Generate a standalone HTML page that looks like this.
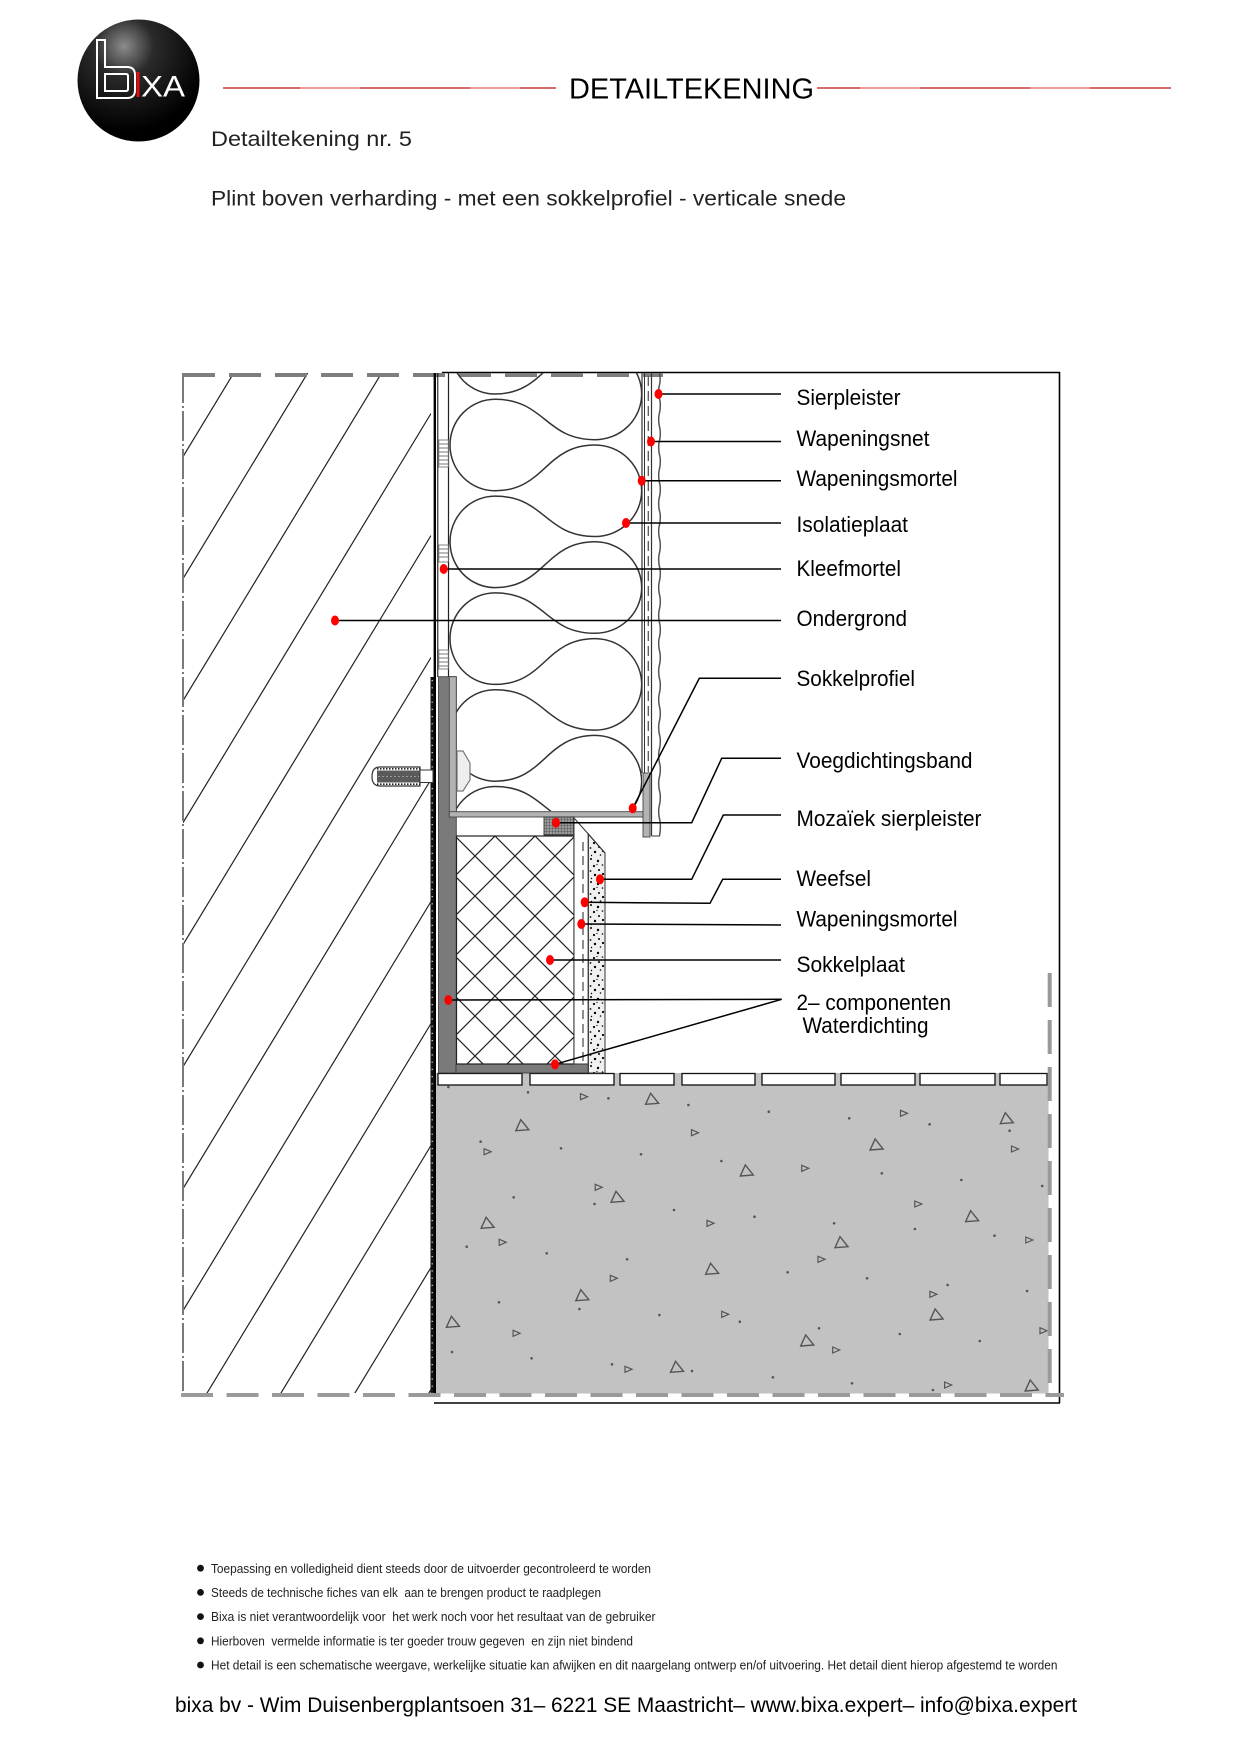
<!DOCTYPE html>
<html>
<head>
<meta charset="utf-8">
<style>
html,body{margin:0;padding:0;background:#fff;}
svg{display:block;}
text{font-family:"Liberation Sans",Arial,sans-serif;white-space:pre;}
</style>
</head>
<body>
<svg width="1240" height="1754" viewBox="0 0 1240 1754" xmlns="http://www.w3.org/2000/svg">
<defs>
  <radialGradient id="lg" cx="0.38" cy="0.22" r="0.7">
    <stop offset="0" stop-color="#8c8c8c"/>
    <stop offset="0.35" stop-color="#2a2a2a"/>
    <stop offset="1" stop-color="#000"/>
  </radialGradient>
  <clipPath id="wallclip"><rect x="183" y="373" width="248" height="1020"/></clipPath>
  <clipPath id="insclip"><rect x="449" y="373" width="193" height="438"/></clipPath>
  <clipPath id="xpsclip"><rect x="456.5" y="836" width="117.5" height="228"/></clipPath>
  <pattern id="xps" patternUnits="userSpaceOnUse" x="455" y="836" width="40" height="40">
    <path d="M0,0 L40,40 M40,0 L0,40" stroke="#222" stroke-width="1.2" fill="none"/>
  </pattern>
  <pattern id="fine" patternUnits="userSpaceOnUse" width="3" height="3">
    <rect width="3" height="3" fill="#9a9a9a"/>
    <path d="M0,0 L3,0 M0,0 L0,3" stroke="#444" stroke-width="0.8"/>
  </pattern>
  <pattern id="speck" patternUnits="userSpaceOnUse" x="588" y="834" width="17" height="23">
    <circle cx="3" cy="2" r="1"/><circle cx="10" cy="4" r="1.2"/><circle cx="14.5" cy="8" r="0.8"/>
    <circle cx="6" cy="9" r="1.1"/><circle cx="2.5" cy="14" r="0.9"/><circle cx="11" cy="13" r="1"/>
    <circle cx="15" cy="17" r="1.1"/><circle cx="7" cy="18" r="1.2"/><circle cx="12.5" cy="21" r="0.8"/>
    <circle cx="3.5" cy="21.5" r="0.7"/><circle cx="9" cy="7.5" r="0.6"/>
  </pattern>
  <path id="tb" d="M-6,5 L7,4 L-1,-6 Z" fill="none" stroke="#555" stroke-width="1.4"/>
  <path id="ts" d="M-3,-3 L4,0 L-3,3 Z" fill="none" stroke="#555" stroke-width="1.2"/>
</defs>

<!-- ===== HEADER ===== -->
<circle cx="138.5" cy="80.5" r="61" fill="url(#lg)"/>
<path d="M97,40 L105,40 L105,67 L127,67 Q135,67 135,75 L135,90 Q135,98 127,98 L97,98 Z M105,74 L126,74 Q128,74 128,76 L128,89 Q128,91 126,91 L105,91 Z" fill="none" stroke="#fff" stroke-width="2"/>
<rect x="136.5" y="72" width="3" height="25" fill="#e01010"/>
<text x="141" y="96.5" font-size="30" fill="#fff" textLength="44" lengthAdjust="spacingAndGlyphs">XA</text>

<line x1="223" y1="88" x2="556" y2="88" stroke="#c83a3a" stroke-width="1.6"/>
<line x1="817" y1="88" x2="1171" y2="88" stroke="#c83a3a" stroke-width="1.6"/>
<line x1="300" y1="88" x2="360" y2="88" stroke="#e99" stroke-width="1.6"/>
<line x1="470" y1="88" x2="520" y2="88" stroke="#e99" stroke-width="1.6"/>
<line x1="860" y1="88" x2="920" y2="88" stroke="#e99" stroke-width="1.6"/>
<line x1="1030" y1="88" x2="1090" y2="88" stroke="#e99" stroke-width="1.6"/>
<text x="569" y="98.5" font-size="29" fill="#000" textLength="245" lengthAdjust="spacingAndGlyphs">DETAILTEKENING</text>

<text x="211" y="146" font-size="21" fill="#222" textLength="201" lengthAdjust="spacingAndGlyphs">Detailtekening nr. 5</text>
<text x="211" y="205.5" font-size="21" fill="#222" textLength="635" lengthAdjust="spacingAndGlyphs">Plint boven verharding - met een sokkelprofiel - verticale snede</text>

<!-- ===== WALL HATCH ===== -->
<g clip-path="url(#wallclip)" stroke="#222" stroke-width="1.2">
  <line x1="183" y1="456.7" x2="431" y2="47.5"/>
  <line x1="183" y1="578.7" x2="431" y2="169.5"/>
  <line x1="183" y1="700.7" x2="431" y2="291.5"/>
  <line x1="183" y1="822.7" x2="431" y2="413.5"/>
  <line x1="183" y1="944.7" x2="431" y2="535.5"/>
  <line x1="183" y1="1066.7" x2="431" y2="657.5"/>
  <line x1="183" y1="1188.7" x2="431" y2="779.5"/>
  <line x1="183" y1="1310.7" x2="431" y2="901.5"/>
  <line x1="183" y1="1432.7" x2="431" y2="1023.5"/>
  <line x1="183" y1="1554.7" x2="431" y2="1145.5"/>
  <line x1="183" y1="1676.7" x2="431" y2="1267.5"/>
  <line x1="183" y1="1798.7" x2="431" y2="1389.5"/>
</g>

<!-- ===== CONCRETE ===== -->
<rect x="432.5" y="1073" width="616" height="320.5" fill="#c2c2c2"/>
<g>
  <use href="#tb" x="651.6" y="1099.3"/><use href="#tb" x="521.8" y="1125.7"/>
  <use href="#tb" x="876.1" y="1145"/><use href="#tb" x="1006.3" y="1118.7"/>
  <use href="#tb" x="746.3" y="1171"/><use href="#tb" x="617" y="1197.3"/>
  <use href="#tb" x="487.1" y="1223.3"/><use href="#tb" x="841" y="1242.7"/>
  <use href="#tb" x="971.6" y="1216.7"/><use href="#tb" x="711.6" y="1269.3"/>
  <use href="#tb" x="581.8" y="1295.7"/><use href="#tb" x="452.4" y="1322.3"/>
  <use href="#tb" x="936.1" y="1315"/><use href="#tb" x="806.7" y="1341"/>
  <use href="#tb" x="676.5" y="1367.3"/><use href="#tb" x="1031.2" y="1386"/>
  <use href="#ts" x="583.5" y="1096.7"/><use href="#ts" x="694.5" y="1132.7"/>
  <use href="#ts" x="487.1" y="1151.7"/><use href="#ts" x="903.5" y="1113.3"/>
  <use href="#ts" x="1014.5" y="1149"/><use href="#ts" x="804.7" y="1168.3"/>
  <use href="#ts" x="598.2" y="1187.3"/><use href="#ts" x="917.8" y="1204"/>
  <use href="#ts" x="710" y="1223.3"/><use href="#ts" x="502.2" y="1242.3"/>
  <use href="#ts" x="1028.8" y="1240"/><use href="#ts" x="821" y="1259.3"/>
  <use href="#ts" x="613.3" y="1278.3"/><use href="#ts" x="932.9" y="1294.3"/>
  <use href="#ts" x="724.7" y="1314.3"/><use href="#ts" x="516.1" y="1333.3"/>
  <use href="#ts" x="1043" y="1330.7"/><use href="#ts" x="835.7" y="1350"/>
  <use href="#ts" x="628" y="1369.3"/><use href="#ts" x="947.6" y="1385"/>
</g>
<g fill="#555">
  <circle cx="528" cy="1092.3" r="1.3"/><circle cx="608.4" cy="1098.3" r="1.3"/>
  <circle cx="688.4" cy="1105" r="1.3"/><circle cx="768.8" cy="1111.7" r="1.3"/>
  <circle cx="849.2" cy="1118.3" r="1.3"/><circle cx="929.6" cy="1124.3" r="1.3"/>
  <circle cx="1009.6" cy="1130.7" r="1.3"/><circle cx="480.6" cy="1141.7" r="1.3"/>
  <circle cx="561" cy="1148.3" r="1.3"/><circle cx="641" cy="1154.3" r="1.3"/>
  <circle cx="721.4" cy="1161" r="1.3"/><circle cx="881.8" cy="1173.3" r="1.3"/>
  <circle cx="961.4" cy="1180" r="1.3"/><circle cx="1042.2" cy="1186" r="1.3"/>
  <circle cx="513.7" cy="1197.3" r="1.3"/><circle cx="594.5" cy="1204" r="1.3"/>
  <circle cx="674" cy="1210" r="1.3"/><circle cx="754.5" cy="1216.7" r="1.3"/>
  <circle cx="834.1" cy="1223.3" r="1.3"/><circle cx="914.9" cy="1229" r="1.3"/>
  <circle cx="994.5" cy="1235.7" r="1.3"/><circle cx="466.7" cy="1246.7" r="1.3"/>
  <circle cx="546.7" cy="1253.3" r="1.3"/><circle cx="627.1" cy="1259.3" r="1.3"/>
  <circle cx="787.6" cy="1272.3" r="1.3"/><circle cx="867.1" cy="1278.3" r="1.3"/>
  <circle cx="947.6" cy="1285" r="1.3"/><circle cx="1027.1" cy="1291" r="1.3"/>
  <circle cx="499" cy="1302.3" r="1.3"/><circle cx="579.4" cy="1309" r="1.3"/>
  <circle cx="659.4" cy="1315" r="1.3"/><circle cx="739.8" cy="1321.7" r="1.3"/>
  <circle cx="819" cy="1328.3" r="1.3"/><circle cx="899.8" cy="1334" r="1.3"/>
  <circle cx="979.8" cy="1341" r="1.3"/><circle cx="452" cy="1352" r="1.3"/>
  <circle cx="531.6" cy="1358.3" r="1.3"/><circle cx="612" cy="1364.3" r="1.3"/>
  <circle cx="692" cy="1371" r="1.3"/><circle cx="772.9" cy="1377.3" r="1.3"/>
  <circle cx="852" cy="1383.3" r="1.3"/><circle cx="932.9" cy="1390" r="1.3"/>
  <circle cx="448.4" cy="1087" r="1.3"/>
</g>

<!-- tiles -->
<g fill="#fff" stroke="#111" stroke-width="1.3">
  <rect x="438" y="1073.5" width="84" height="11.5"/>
  <rect x="530" y="1073.5" width="84" height="11.5"/>
  <rect x="620" y="1073.5" width="54" height="11.5"/>
  <rect x="682" y="1073.5" width="73" height="11.5"/>
  <rect x="762" y="1073.5" width="73" height="11.5"/>
  <rect x="841" y="1073.5" width="74" height="11.5"/>
  <rect x="920" y="1073.5" width="75" height="11.5"/>
  <rect x="1000" y="1073.5" width="47" height="11.5"/>
</g>

<!-- ===== FRAME ===== -->
<line x1="442" y1="372.5" x2="1060" y2="372.5" stroke="#000" stroke-width="1.5"/>
<line x1="183" y1="375" x2="663" y2="375" stroke="#7e7e7e" stroke-width="4" stroke-dasharray="32 14"/>
<line x1="183" y1="373" x2="183" y2="1393" stroke="#7a7a7a" stroke-width="2" stroke-dasharray="30 3 2 3"/>
<line x1="1059.5" y1="372" x2="1059.5" y2="1403" stroke="#000" stroke-width="1.6"/>
<line x1="1049.7" y1="973" x2="1049.7" y2="1393" stroke="#9a9a9a" stroke-width="4" stroke-dasharray="34 13"/>
<line x1="181" y1="1395" x2="1064" y2="1395" stroke="#9a9a9a" stroke-width="4" stroke-dasharray="32 13.5"/>
<line x1="434" y1="1403" x2="1060" y2="1403" stroke="#000" stroke-width="1.5"/>

<!-- wall face -->
<line x1="434.8" y1="373" x2="434.8" y2="1393" stroke="#000" stroke-width="2.4"/>
<line x1="437.8" y1="373" x2="437.8" y2="677" stroke="#000" stroke-width="1"/>
<rect x="430.5" y="677" width="3.5" height="716" fill="#111"/>
<line x1="432.2" y1="680" x2="432.2" y2="1393" stroke="#ddd" stroke-width="1.2" stroke-dasharray="1.2 6"/>

<!-- ===== INSULATION ===== -->
<line x1="448.5" y1="373" x2="448.5" y2="677" stroke="#222" stroke-width="1.2"/>
<g clip-path="url(#insclip)">
<path fill="none" stroke="#333" stroke-width="1.5" d="M 495 302.5 A 45 45.75 0 0 0 495 394 C 545 394 545 348.2 595 348.2 A 46.7 45.75 0 0 1 595 439.7 C 545 439.7 545 399.3 495 399.3 A 45 45.75 0 0 0 495 490.8 C 545 490.8 545 445 595 445 A 46.7 45.75 0 0 1 595 536.5 C 545 536.5 545 496.1 495 496.1 A 45 45.75 0 0 0 495 587.6 C 545 587.6 545 541.8 595 541.8 A 46.7 45.75 0 0 1 595 633.3 C 545 633.3 545 592.9 495 592.9 A 45 45.75 0 0 0 495 684.4 C 545 684.4 545 638.6 595 638.6 A 46.7 45.75 0 0 1 595 730.1 C 545 730.1 545 689.7 495 689.7 A 45 45.75 0 0 0 495 781.2 C 545 781.2 545 735.4 595 735.4 A 46.7 45.75 0 0 1 595 826.9 C 545 826.9 545 786.5 495 786.5 A 45 45.75 0 0 0 495 878"/>
</g>

<!-- glue dabs -->
<g stroke="#777" stroke-width="0.9" fill="#fff">
  <rect x="438.8" y="440" width="9.5" height="27"/>
  <rect x="438.8" y="545" width="9.5" height="17"/>
  <rect x="438.8" y="650" width="9.5" height="19"/>
  <path d="M439,444 H448 M439,448 H448 M439,452 H448 M439,456 H448 M439,460 H448 M439,464 H448 M439,549 H448 M439,553 H448 M439,557 H448 M439,654 H448 M439,658 H448 M439,662 H448 M439,666 H448"/>
</g>

<!-- render layers -->
<line x1="642" y1="373" x2="642" y2="773" stroke="#333" stroke-width="1.2"/>
<line x1="644.5" y1="373" x2="644.5" y2="773" stroke="#333" stroke-width="1"/>
<line x1="648.3" y1="376" x2="648.3" y2="772" stroke="#555" stroke-width="1.3" stroke-dasharray="10 5"/>
<line x1="651.5" y1="373" x2="651.5" y2="836" stroke="#333" stroke-width="1.2"/>
<path d="M659.5,373 Q661,380 659,387 Q658,394 660,401 Q661,408 659,415 Q658,422 660,429 Q661,436 659,443 Q658,450 660,457 Q661,464 659,471 Q658,478 660,485 Q661,492 659,499 Q658,506 660,513 Q661,520 659,527 Q658,534 660,541 Q661,548 659,555 Q658,562 660,569 Q661,576 659,583 Q658,590 660,597 Q661,604 659,611 Q658,618 660,625 Q661,632 659,639 Q658,646 660,653 Q661,660 659,667 Q658,674 660,681 Q661,688 659,695 Q658,702 660,709 Q661,716 659,723 Q658,730 660,737 Q661,744 659,751 Q658,758 660,765 Q661,772 659,779 Q658,786 660,793 Q661,800 659,807 Q658,814 660,821 Q661,828 659.5,836" fill="none" stroke="#555" stroke-width="1.5"/>
<line x1="651.5" y1="836" x2="660" y2="836" stroke="#555" stroke-width="1.2"/>

<!-- ===== WATERPROOFING / PROFILE ===== -->
<rect x="438.5" y="676.7" width="17.8" height="396.3" fill="#7a7a7a" stroke="#333" stroke-width="0.8"/>
<rect x="456" y="1064" width="132.3" height="9" fill="#7a7a7a" stroke="#333" stroke-width="0.8"/>
<rect x="449.3" y="676.7" width="7" height="140" fill="#b3b3b3" stroke="#444" stroke-width="0.9"/>
<rect x="449.3" y="811.7" width="200.7" height="5.3" fill="#b3b3b3" stroke="#444" stroke-width="0.9"/>
<rect x="643" y="773" width="7" height="64" fill="#b3b3b3" stroke="#444" stroke-width="0.9"/>

<!-- anchor -->
<path d="M380,767 L420,767 L420,786 L380,786 Q372,786 372,776.5 Q372,767 380,767 Z" fill="#fff" stroke="#333" stroke-width="1.2"/>
<rect x="377" y="770.5" width="43" height="12" fill="#5a5a5a"/>
<line x1="377" y1="768.8" x2="420" y2="768.8" stroke="#222" stroke-width="1.6" stroke-dasharray="1.5 1.5"/>
<line x1="377" y1="784.2" x2="420" y2="784.2" stroke="#222" stroke-width="1.6" stroke-dasharray="1.5 1.5"/>
<line x1="378" y1="776.5" x2="419" y2="776.5" stroke="#999" stroke-width="1" stroke-dasharray="2 2"/>
<rect x="420" y="770" width="13" height="12.5" fill="#fff" stroke="#333" stroke-width="1"/>
<path d="M457,751 L463,751 L470,763 L470,780 L463,791 L457,791 Z" fill="#eee" stroke="#777" stroke-width="1.2"/>

<!-- voegdichtingsband -->
<rect x="544" y="817" width="30" height="18" fill="url(#fine)" stroke="#333" stroke-width="0.9"/>

<!-- sokkelplaat XPS -->
<rect x="456.5" y="836" width="117.5" height="228" fill="#fff"/>
<rect x="456.5" y="836" width="117.5" height="228" fill="url(#xps)" clip-path="url(#xpsclip)"/>
<rect x="456.5" y="836" width="117.5" height="228" fill="none" stroke="#222" stroke-width="1.2"/>

<!-- mortar + mozaiek -->
<polygon points="574,818 588.3,834 588.3,1064 574,1064" fill="#fff" stroke="#333" stroke-width="1"/>
<line x1="583" y1="842" x2="583" y2="1062" stroke="#444" stroke-width="1.2" stroke-dasharray="9 5"/>
<polygon points="588.3,834 605,853 605,1073 588.3,1073" fill="#f0f0f0" stroke="#333" stroke-width="1"/>
<polygon points="588.3,834 605,853 605,1073 588.3,1073" fill="url(#speck)"/>
<polygon points="588.3,834 605,853 605,1073 588.3,1073" fill="none" stroke="#333" stroke-width="1"/>

<!-- ===== LEADER LINES ===== -->
<g stroke="#000" stroke-width="1.5" fill="none">
  <line x1="658.5" y1="394" x2="781" y2="394"/>
  <line x1="651" y1="441.5" x2="781" y2="441.5"/>
  <line x1="641.7" y1="480.7" x2="781" y2="480.7"/>
  <line x1="626" y1="523" x2="781" y2="523"/>
  <line x1="443.7" y1="569" x2="781" y2="569"/>
  <line x1="335" y1="620.5" x2="781" y2="620.5"/>
  <polyline points="632.7,808.3 699.3,678.3 781,678.3"/>
  <polyline points="556,822.7 691.7,822.7 721.7,758.3 781,758.3"/>
  <polyline points="600,879.3 691.7,879.3 723.3,815 781,815"/>
  <polyline points="584.7,902.3 710,903.3 722.7,879.3 781,879.3"/>
  <line x1="581.3" y1="924" x2="781" y2="925"/>
  <line x1="550" y1="960" x2="781" y2="960"/>
  <line x1="448.3" y1="1000" x2="781.7" y2="999.3"/>
  <line x1="555" y1="1064.3" x2="781.7" y2="999.3"/>
</g>
<g fill="#f00">
  <ellipse cx="658.5" cy="394" rx="4" ry="5"/>
  <ellipse cx="651" cy="441.5" rx="4" ry="5"/>
  <ellipse cx="641.7" cy="480.7" rx="4" ry="5"/>
  <ellipse cx="626" cy="523" rx="4" ry="5"/>
  <ellipse cx="443.7" cy="569" rx="4" ry="5"/>
  <ellipse cx="335" cy="620.5" rx="4" ry="5"/>
  <ellipse cx="632.7" cy="808.3" rx="4" ry="5"/>
  <ellipse cx="556" cy="822.7" rx="4" ry="5"/>
  <ellipse cx="600" cy="879.3" rx="4" ry="5"/>
  <ellipse cx="584.7" cy="902.3" rx="4" ry="5"/>
  <ellipse cx="581.3" cy="924" rx="4" ry="5"/>
  <ellipse cx="550" cy="960" rx="4" ry="5"/>
  <ellipse cx="448.3" cy="1000" rx="4" ry="5"/>
  <ellipse cx="555" cy="1064.3" rx="4" ry="5"/>
</g>

<!-- ===== LABELS ===== -->
<g font-size="22" fill="#000">
  <text x="796.5" y="405" textLength="104" lengthAdjust="spacingAndGlyphs">Sierpleister</text>
  <text x="796.5" y="446" textLength="133" lengthAdjust="spacingAndGlyphs">Wapeningsnet</text>
  <text x="796.5" y="486" textLength="161" lengthAdjust="spacingAndGlyphs">Wapeningsmortel</text>
  <text x="796.5" y="532" textLength="111.5" lengthAdjust="spacingAndGlyphs">Isolatieplaat</text>
  <text x="796.5" y="576" textLength="104.5" lengthAdjust="spacingAndGlyphs">Kleefmortel</text>
  <text x="796.5" y="626" textLength="110.5" lengthAdjust="spacingAndGlyphs">Ondergrond</text>
  <text x="796.5" y="686" textLength="118.5" lengthAdjust="spacingAndGlyphs">Sokkelprofiel</text>
  <text x="796.5" y="768" textLength="176" lengthAdjust="spacingAndGlyphs">Voegdichtingsband</text>
  <text x="796.5" y="826" textLength="185" lengthAdjust="spacingAndGlyphs">Mozaïek sierpleister</text>
  <text x="796.5" y="886" textLength="74.5" lengthAdjust="spacingAndGlyphs">Weefsel</text>
  <text x="796.5" y="926.5" textLength="161" lengthAdjust="spacingAndGlyphs">Wapeningsmortel</text>
  <text x="796.5" y="972" textLength="108.5" lengthAdjust="spacingAndGlyphs">Sokkelplaat</text>
  <text x="796.5" y="1010" textLength="154.5" lengthAdjust="spacingAndGlyphs">2– componenten</text>
  <text x="802.5" y="1033" textLength="126" lengthAdjust="spacingAndGlyphs">Waterdichting</text>
</g>

<!-- ===== NOTES ===== -->
<g fill="#111">
  <circle cx="200.5" cy="1568.2" r="3.4"/>
  <circle cx="200.5" cy="1592.4" r="3.4"/>
  <circle cx="200.5" cy="1616.6" r="3.4"/>
  <circle cx="200.5" cy="1640.8" r="3.4"/>
  <circle cx="200.5" cy="1665" r="3.4"/>
</g>
<g font-size="13" fill="#222">
  <text x="211" y="1572.8" textLength="440" lengthAdjust="spacingAndGlyphs">Toepassing en volledigheid dient steeds door de uitvoerder gecontroleerd te worden</text>
  <text x="211" y="1597" textLength="390" lengthAdjust="spacingAndGlyphs">Steeds de technische fiches van elk  aan te brengen product te raadplegen</text>
  <text x="211" y="1621.2" textLength="444.5" lengthAdjust="spacingAndGlyphs">Bixa is niet verantwoordelijk voor  het werk noch voor het resultaat van de gebruiker</text>
  <text x="211" y="1645.4" textLength="422" lengthAdjust="spacingAndGlyphs">Hierboven  vermelde informatie is ter goeder trouw gegeven  en zijn niet bindend</text>
  <text x="211" y="1669.6" textLength="846.5" lengthAdjust="spacingAndGlyphs">Het detail is een schematische weergave, werkelijke situatie kan afwijken en dit naargelang ontwerp en/of uitvoering. Het detail dient hierop afgestemd te worden</text>
</g>
<text x="175" y="1712" font-size="21" fill="#000" textLength="902" lengthAdjust="spacingAndGlyphs">bixa bv - Wim Duisenbergplantsoen 31– 6221 SE Maastricht– www.bixa.expert– info@bixa.expert</text>
</svg>
</body>
</html>
